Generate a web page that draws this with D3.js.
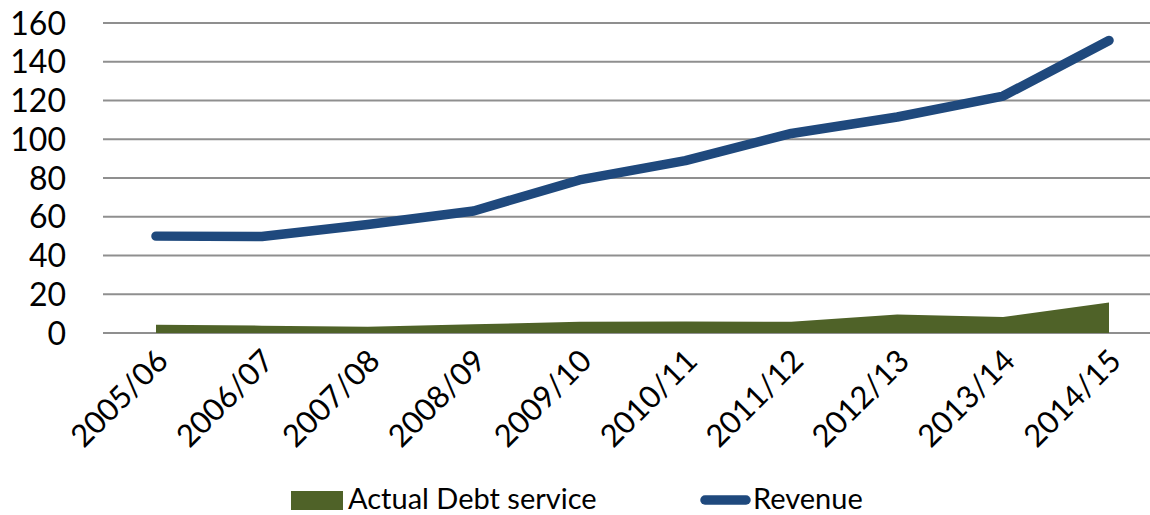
<!DOCTYPE html>
<html>
<head>
<meta charset="utf-8">
<script src="https://cdn.jsdelivr.net/npm/d3@7"></script>
<style>
  body { margin: 0; background: #fff; }
  svg { display: block; font-family: Lato, "Liberation Sans", sans-serif; }
</style>
</head>
<body>
<svg></svg>
<script>
const years = ["2005/06", "2006/07", "2007/08", "2008/09", "2009/10", "2010/11", "2011/12", "2012/13", "2013/14", "2014/15"]
const debtService = [4.3, 3.8, 3.2, 4.5, 5.8, 5.9, 5.8, 9.5, 8.2, 15.8]
const revenue = [50, 49.8, 56, 63, 79, 89, 103, 111.5, 122.3, 151]
const yTicks = [0, 20, 40, 60, 80, 100, 120, 140, 160]

const width = 1150, height = 515
const margin = {top: 23, left: 103, right: -12, bottom: 182}

const svg = d3.select("svg")
    .attr("width", width)
    .attr("height", height)

const x = d3.scalePoint()
    .domain(years)
    .range([156, 1109])

const y = d3.scaleLinear()
    .domain([0, 160])
    .range([height - margin.bottom, margin.top])

// gridlines
svg.append("g")
  .selectAll("line")
  .data(yTicks)
  .join("line")
    .attr("x1", margin.left)
    .attr("x2", width)
    .attr("y1", d => y(d))
    .attr("y2", d => y(d))
    .attr("stroke", "#8f8f8f")
    .attr("stroke-width", 2)

// y labels
svg.append("g")
  .selectAll("text")
  .data(yTicks)
  .join("text")
    .attr("x", 66)
    .attr("y", d => y(d))
    .attr("dy", "0.36em")
    .attr("text-anchor", "end")
    .attr("font-size", 32)
    .attr("fill", "#000")
    .text(d => d)

// debt service area
const area = d3.area()
    .x((d, i) => x(years[i]))
    .y0(y(0))
    .y1(d => y(d))

svg.append("path")
    .datum(debtService)
    .attr("d", area)
    .attr("fill", "#4f6228")

// revenue line
const line = d3.line()
    .x((d, i) => x(years[i]))
    .y(d => y(d))

svg.append("path")
    .datum(revenue)
    .attr("d", line)
    .attr("fill", "none")
    .attr("stroke", "#1f497d")
    .attr("stroke-width", 9.5)
    .attr("stroke-linecap", "round")
    .attr("stroke-linejoin", "round")

// x labels
svg.append("g")
  .selectAll("text")
  .data(years)
  .join("text")
    .attr("transform", d => `translate(${x(d) + 6},${y(0) + 22}) rotate(-45)`)
    .attr("dy", "0.36em")
    .attr("text-anchor", "end")
    .attr("font-size", 31)
    .attr("fill", "#000")
    .text(d => d)

// legend
const legend = svg.append("g")

legend.append("rect")
    .attr("x", 291)
    .attr("y", 491)
    .attr("width", 52)
    .attr("height", 19)
    .attr("fill", "#4f6228")

legend.append("text")
    .attr("x", 348)
    .attr("y", 499)
    .attr("dy", "0.36em")
    .attr("font-size", 29)
    .text("Actual Debt service")

legend.append("line")
    .attr("x1", 705)
    .attr("x2", 746)
    .attr("y1", 500)
    .attr("y2", 500)
    .attr("stroke", "#1f497d")
    .attr("stroke-width", 9.5)
    .attr("stroke-linecap", "round")

legend.append("text")
    .attr("x", 753)
    .attr("y", 499)
    .attr("dy", "0.36em")
    .attr("font-size", 29)
    .text("Revenue")
</script>
</body>
</html>
